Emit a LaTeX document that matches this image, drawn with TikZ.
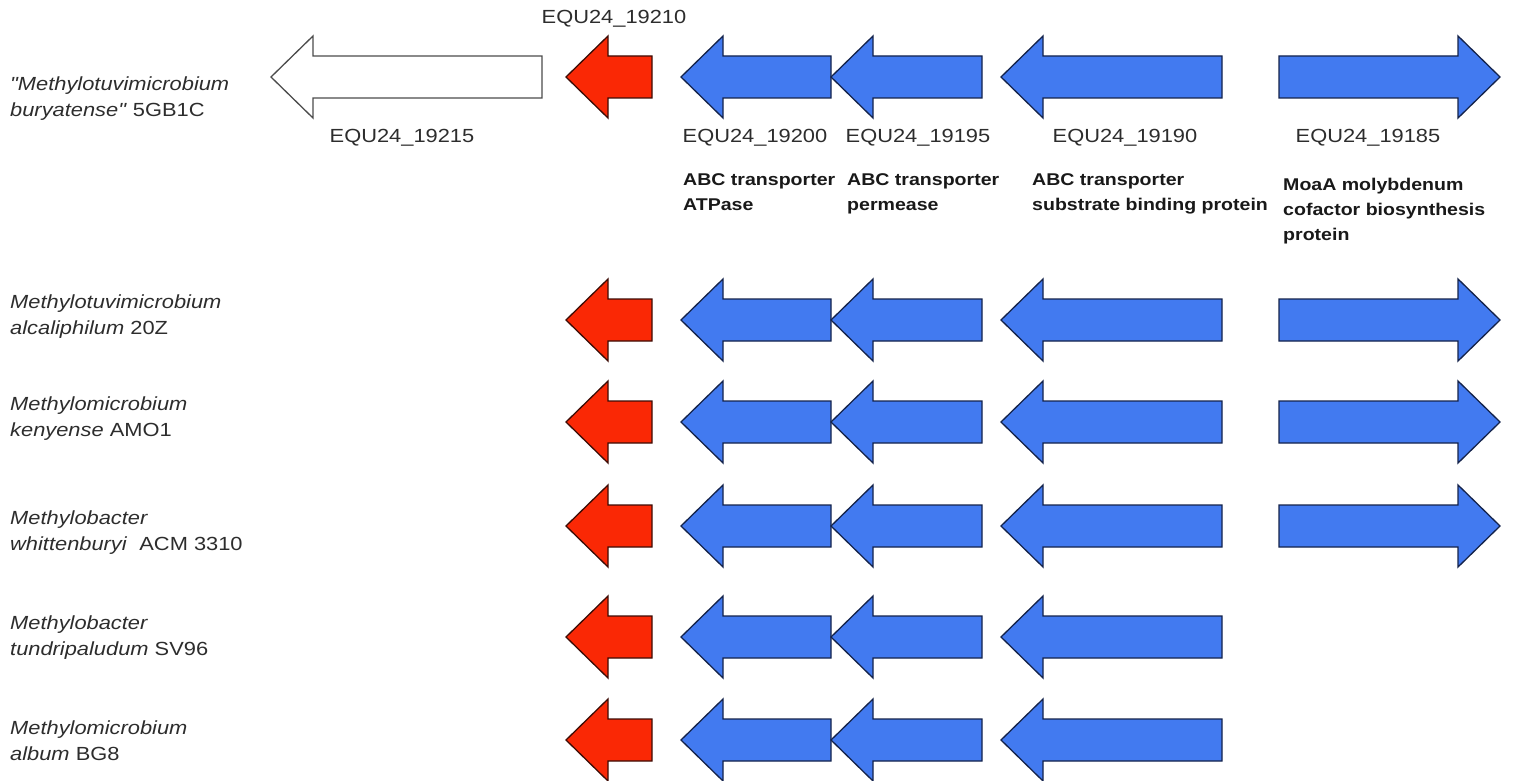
\documentclass[tikz,border=0pt]{standalone}
\usepackage{fontspec}
\setmainfont[FakeStretch=1.15, Ligatures=TeXOff]{Liberation Sans}
\definecolor{geneblue}{RGB}{66,122,240}
\definecolor{genered}{RGB}{250,40,5}
\definecolor{txtgrey}{RGB}{45,45,45}
\definecolor{blueline}{RGB}{20,35,75}
\definecolor{redline}{RGB}{60,12,5}
\tikzset{
  genebox/.style={line width=1.3pt, line join=miter},
  bluegene/.style={genebox, fill=geneblue, draw=blueline},
  redgene/.style={genebox, fill=genered, draw=redline},
  whitegene/.style={genebox, fill=white, draw=black!70},
  species/.style={anchor=north west, inner sep=0pt, align=left, text=txtgrey,
    font=\fontsize{19}{26}\selectfont},
  locus/.style={inner sep=0pt, text=txtgrey, font=\fontsize{19}{23}\selectfont},
  descr/.style={anchor=north west, inner sep=0pt, align=left, text=black!90,
    font=\fontsize{17}{25}\selectfont\bfseries}
}
% left-pointing gene: style, tip x, end x, centre y
\newcommand\lgene[4]{%
  \path[#1] (#2,#4) -- (#2+42,#4-41) -- (#2+42,#4-21) -- (#3,#4-21)
    -- (#3,#4+21) -- (#2+42,#4+21) -- (#2+42,#4+41) -- cycle;}
% right-pointing gene: style, start x, tip x, centre y
\newcommand\rgene[4]{%
  \path[#1] (#2,#4-21) -- (#3-42,#4-21) -- (#3-42,#4-41) -- (#3,#4)
    -- (#3-42,#4+41) -- (#3-42,#4+21) -- (#2,#4+21) -- cycle;}
% common cluster: red + three blue genes
\newcommand\cluster[1]{%
  \lgene{redgene}{566}{652}{#1}
  \lgene{bluegene}{681}{831}{#1}
  \lgene{bluegene}{831}{982}{#1}
  \lgene{bluegene}{1001}{1222}{#1}}
\begin{document}
\begin{tikzpicture}[x=1pt,y=-1pt]
  \useasboundingbox (0,0) rectangle (1531,781);
  \clip (0,0) rectangle (1531,781);
  \fill[white] (0,0) rectangle (1531,781);

  % row 1
  \lgene{whitegene}{271}{542}{77}
  \cluster{77}
  \rgene{bluegene}{1279}{1500}{77}
  % row 2
  \cluster{320}
  \rgene{bluegene}{1279}{1500}{320}
  % row 3
  \cluster{422}
  \rgene{bluegene}{1279}{1500}{422}
  % row 4
  \cluster{526}
  \rgene{bluegene}{1279}{1500}{526}
  % row 5
  \cluster{637}
  % row 6
  \cluster{740}

  % species labels
  \node[species] (sp1) at (10,77) {\textit{"Methylotuvimicrobium}\\\textit{buryatense"} 5GB1C};
  \node[species] (sp2) at (10,295) {\textit{Methylotuvimicrobium}\\\textit{alcaliphilum} 20Z};
  \node[species] (sp3) at (10,397) {\textit{Methylomicrobium}\\\textit{kenyense} AMO1};
  \node[species] (sp4) at (10,511) {\textit{Methylobacter}\\\textit{whittenburyi}\ \ ACM 3310};
  \node[species] (sp5) at (10,616) {\textit{Methylobacter}\\\textit{tundripaludum} SV96};
  \node[species] (sp6) at (10,721) {\textit{Methylomicrobium}\\\textit{album} BG8};

  % locus tags
  \node[locus] (l210) at (614,19) {EQU24\_19210};
  \node[locus] (l215) at (402,138) {EQU24\_19215};
  \node[locus] (l200) at (755,138) {EQU24\_19200};
  \node[locus] (l195) at (918,138) {EQU24\_19195};
  \node[locus] (l190) at (1125,138) {EQU24\_19190};
  \node[locus] (l185) at (1368,138) {EQU24\_19185};

  % descriptions
  \node[descr] (d200) at (683,173) {ABC transporter\\ATPase};
  \node[descr] (d195) at (847,173) {ABC transporter\\permease};
  \node[descr] (d190) at (1032,173) {ABC transporter\\substrate binding protein};
  \node[descr] (d185) at (1283,178) {MoaA molybdenum\\cofactor biosynthesis\\protein};
\end{tikzpicture}
\end{document}
